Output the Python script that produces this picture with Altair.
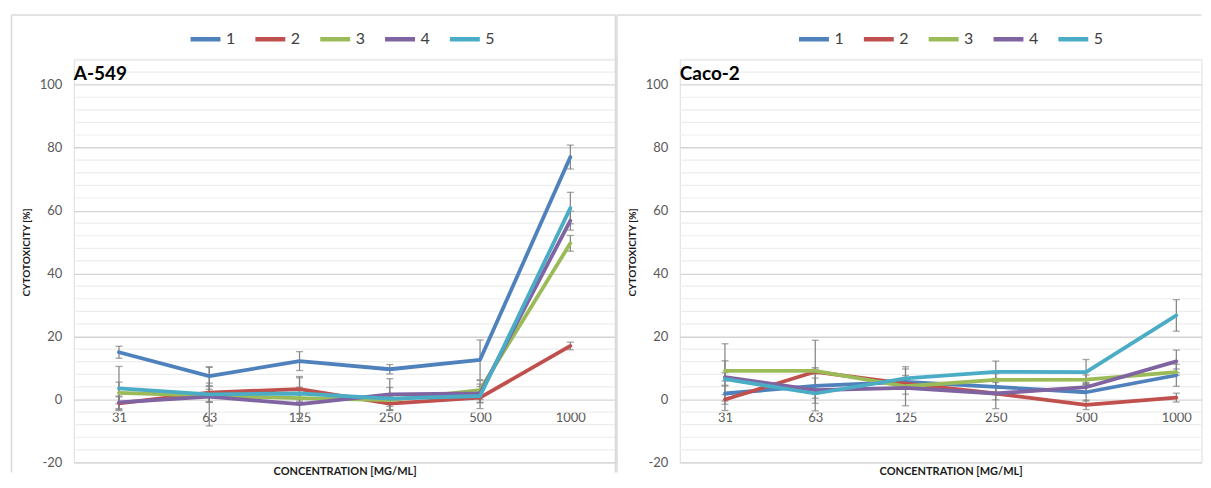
import altair as alt
import pandas as pd

concentrations = ["31", "63", "125", "250", "500", "1000"]
series_names = ["1", "2", "3", "4", "5"]
colors = ["#4F81BD", "#C0504D", "#9BBB59", "#8064A2", "#4BACC6"]

# A-549 means and error (+/-) per series
a549_1 = [15.0, 7.4, 12.2, 9.6, 12.6, 77.0]
a549_2 = [-1.2, 2.2, 3.3, -1.3, 0.6, 17.0]
a549_3 = [2.1, 1.2, 0.4, -0.2, 3.0, 49.6]
a549_4 = [-0.9, 0.9, -1.5, 1.6, 1.9, 56.8]
a549_5 = [3.5, 1.6, 1.9, 0.3, 1.1, 60.8]
a549_err_1 = [1.9, 3.0, 3.0, 1.5, 6.3, 3.8]
a549_err_2 = [2.0, 3.0, 4.0, 2.2, 3.5, 1.2]
a549_err_3 = [3.4, 2.0, 6.5, 2.0, 3.0, 2.5]
a549_err_4 = [2.0, 9.3, 3.0, 5.0, 3.0, 3.0]
a549_err_5 = [7.0, 2.5, 2.0, 3.5, 2.0, 5.0]

# Caco-2 means and error (+/-) per series
caco_1 = [1.9, 4.3, 5.6, 4.0, 2.3, 7.7]
caco_2 = [0.0, 8.8, 5.0, 1.9, -1.7, 0.6]
caco_3 = [9.1, 9.1, 4.2, 6.2, 6.3, 8.7]
caco_4 = [7.1, 3.0, 3.7, 1.9, 3.9, 12.1]
caco_5 = [6.5, 1.9, 6.7, 8.8, 8.7, 26.7]
caco_err_1 = [2.4, 2.5, 2.0, 2.0, 2.8, 3.5]
caco_err_2 = [1.5, 10.0, 1.5, 2.0, 1.5, 1.4]
caco_err_3 = [3.2, 1.0, 6.2, 2.0, 1.5, 1.0]
caco_err_4 = [10.6, 6.6, 2.0, 4.8, 1.5, 3.6]
caco_err_5 = [2.0, 1.5, 3.0, 3.4, 4.0, 5.0]

y_labels = [-20, 0, 20, 40, 60, 80, 100]
minor_grid = [-16, -12, -8, -4, 4, 8, 12, 16, 24, 28, 32, 36, 44, 48, 52, 56,
              64, 68, 72, 76, 84, 88, 92, 96, 104, 108]

FONT = "Lato"
LINE_W = 543
RIGHT_W = 523
PLOT_H = 404
BORDER_BOTTOM = 414


def make_df(vals, errs):
    rows = []
    for name, v_list, e_list in zip(series_names, vals, errs):
        for c, v, e in zip(concentrations, v_list, e_list):
            rows.append({"conc": c, "series": name, "value": v, "lo": v - e, "hi": v + e})
    return pd.DataFrame(rows)


def panel(df, title, width, pad, align, legend_x, title_x, borders):
    xs = alt.Scale(domain=concentrations, type="point", padding=pad, align=align)
    ys = alt.Scale(domain=[-20, 108], nice=False, zero=False)
    x_axis = alt.Axis(offset=-64, domain=False,
                      ticks=False, grid=False, labelAngle=0, labelPadding=13,
                      labelFontSize=13, labelColor="#595959", labelFont=FONT,
                      title="CONCENTRATION [MG/ML]", titleFont=FONT, titleFontSize=11,
                      titleFontWeight="bold", titleColor="#1a1a1a",
                      titleX=title_x, titleY=73, titleBaseline="middle")
    y_axis = alt.Axis(values=y_labels, grid=True, gridColor="#D4D4D4", gridWidth=1.3,
                      domain=False, ticks=False, labelPadding=12, labelFontSize=13,
                      labelColor="#595959", labelFont=FONT,
                      labelExpr="'' + datum.value",
                      title="CYTOTOXICITY [%]", titleFont=FONT, titleFontSize=10,
                      titleFontWeight="bold", titleColor="#1a1a1a",
                      titleX=-47.5, titleY=193, titleAngle=270,
                      titleBaseline="middle", titleAlign="center")
    x_enc = alt.X("conc:N", scale=xs, sort=concentrations, axis=x_axis)

    grid_df = pd.DataFrame({"g": minor_grid})
    grid = alt.Chart(grid_df).mark_rule(color="#EDEDED", strokeWidth=1.2).encode(
        y=alt.Y("g:Q", scale=ys, axis=y_axis),
        x=alt.value(0), x2=alt.value(width))

    base = alt.Chart(df)
    err = base.mark_rule(color="#808080", strokeWidth=1.2).encode(
        x=x_enc, y=alt.Y("lo:Q", scale=ys, axis=y_axis), y2="hi:Q")
    cap_lo = base.mark_tick(color="#808080", thickness=1.3, size=7, orient="horizontal").encode(
        x=x_enc, y=alt.Y("lo:Q", scale=ys, axis=y_axis))
    cap_hi = base.mark_tick(color="#808080", thickness=1.3, size=7, orient="horizontal").encode(
        x=x_enc, y=alt.Y("hi:Q", scale=ys, axis=y_axis))
    lines = base.mark_line(strokeWidth=3.8, strokeCap="round", strokeJoin="round").encode(
        x=x_enc,
        y=alt.Y("value:Q", scale=ys, axis=y_axis),
        color=alt.Color("series:N", scale=alt.Scale(domain=series_names, range=colors),
                        legend=alt.Legend(title=None, orient="none", direction="horizontal",
                                          legendX=legend_x, legendY=-38,
                                          symbolType="stroke", symbolSize=900,
                                          symbolStrokeWidth=4.5, labelFontSize=16,
                                          labelFont=FONT, labelColor="#404040",
                                          labelOffset=3, columnPadding=10, padding=0)),
        detail="series:N")
    one = alt.Data(values=[{"a": 1}])
    ttl = alt.Chart(one).mark_text(text=title, align="left", baseline="middle",
                                   fontSize=19, fontWeight="bold", font=FONT,
                                   color="#000000").encode(
        x=alt.value(0), y=alt.value(15))
    border_layers = [
        alt.Chart(one).mark_rule(color="#D9D9D9", strokeWidth=1.5).encode(
            x=alt.value(b[0]), x2=alt.value(b[1]), y=alt.value(b[2]), y2=alt.value(b[3]))
        for b in borders
    ]
    return alt.layer(grid, err, cap_lo, cap_hi, lines, ttl, *border_layers).properties(
        width=width, height=PLOT_H)


df_a = make_df([a549_1, a549_2, a549_3, a549_4, a549_5],
               [a549_err_1, a549_err_2, a549_err_3, a549_err_4, a549_err_5])
df_c = make_df([caco_1, caco_2, caco_3, caco_4, caco_5],
               [caco_err_1, caco_err_2, caco_err_3, caco_err_4, caco_err_5])

left = panel(df_a, "A-549", LINE_W, 0.5, 0.5, 114.5, LINE_W / 2,
             [(-62.5, LINE_W, -44.5, -44.5),
              (-62.5, -62.5, -44.5, BORDER_BOTTOM),
              (LINE_W, LINE_W, -44.5, BORDER_BOTTOM)])
right = panel(df_c, "Caco-2", RIGHT_W, 0.3895, 0.642, 117, LINE_W / 2,
              [(-63, RIGHT_W, -44.5, -44.5),
               (-63, -63, -44.5, BORDER_BOTTOM)])

chart = alt.hconcat(left, right, spacing=64.5, bounds="flush").resolve_scale(
    color="independent").properties(
    padding={"left": 2, "top": 5, "right": 0, "bottom": 0}
).configure_view(stroke=None).configure(font=FONT, background="white")

chart.save("out.html", embed_options={"renderer": "svg", "actions": False})
